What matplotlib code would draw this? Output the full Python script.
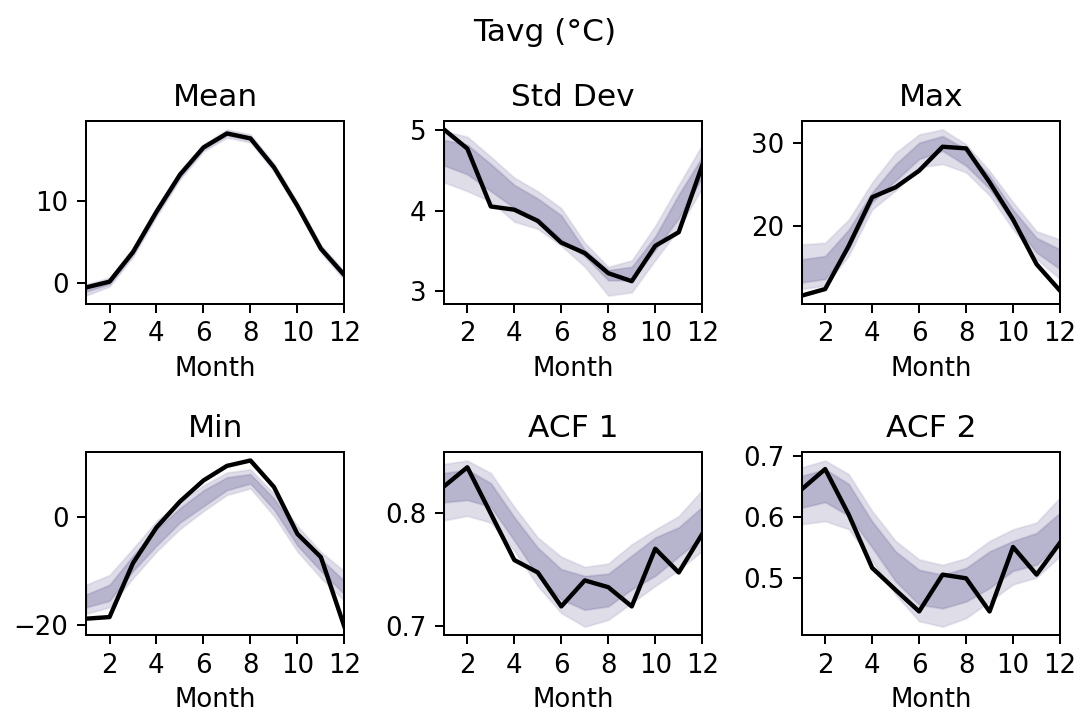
import matplotlib
matplotlib.use("Agg")
import matplotlib.pyplot as plt
import numpy as np

months = list(range(1, 13))
titles = ["Mean", "Std Dev", "Max", "Min", "ACF 1", "ACF 2"]
xticks = [2, 4, 6, 8, 10, 12]
yticks = {
    "Mean": [0, 10],
    "Std Dev": [3, 4, 5],
    "Max": [20, 30],
    "Min": [-20, 0],
    "ACF 1": [0.7, 0.8],
    "ACF 2": [0.5, 0.6, 0.7],
}

# observed (black line)
obs_mean = [-0.5, 0.2, 3.8, 8.7, 13.2, 16.5, 18.2, 17.6, 14.1, 9.4, 4.2, 1.0]
obs_std = [5.01, 4.77, 4.05, 4.01, 3.87, 3.60, 3.47, 3.22, 3.12, 3.56, 3.73, 4.56]
obs_max = [11.6, 12.4, 17.6, 23.5, 24.7, 26.7, 29.6, 29.4, 25.3, 20.8, 15.4, 12.2]
obs_min = [-18.9, -18.6, -8.6, -2.0, 2.8, 6.7, 9.4, 10.4, 5.5, -3.2, -7.5, -20.4]
obs_acf1 = [0.823, 0.840, 0.799, 0.758, 0.747, 0.717, 0.740, 0.734, 0.717, 0.768, 0.747, 0.781]
obs_acf2 = [0.645, 0.678, 0.604, 0.517, 0.481, 0.446, 0.506, 0.500, 0.446, 0.551, 0.506, 0.558]

# simulated ensemble bands: outer (upper/lower) and inner (upper/lower)
mean_out_hi = [-0.1, 0.7, 4.3, 9.2, 13.6, 16.9, 18.7, 18.1, 14.6, 9.9, 4.7, 1.5]
mean_in_hi = [-0.4, 0.4, 4.0, 8.9, 13.4, 16.7, 18.4, 17.8, 14.3, 9.6, 4.4, 1.2]
mean_in_lo = [-1.0, -0.1, 3.5, 8.4, 12.9, 16.3, 18.0, 17.4, 13.9, 9.2, 4.0, 0.7]
mean_out_lo = [-1.5, -0.4, 3.2, 8.1, 12.6, 16.0, 17.7, 17.1, 13.6, 8.9, 3.7, 0.4]

std_out_hi = [4.99, 4.92, 4.67, 4.41, 4.24, 4.03, 3.60, 3.30, 3.38, 3.81, 4.32, 4.82]
std_in_hi = [4.88, 4.82, 4.58, 4.32, 4.15, 3.94, 3.51, 3.26, 3.30, 3.68, 4.20, 4.67]
std_in_lo = [4.56, 4.45, 4.24, 4.03, 3.90, 3.64, 3.43, 3.13, 3.13, 3.51, 3.90, 4.41]
std_out_lo = [4.35, 4.24, 4.11, 3.86, 3.77, 3.56, 3.30, 2.94, 2.98, 3.38, 3.77, 4.28]

max_out_hi = [17.8, 18.0, 20.8, 25.3, 28.9, 31.1, 31.7, 29.9, 26.7, 22.9, 19.4, 18.4]
max_in_hi = [16.0, 16.4, 19.6, 24.1, 27.5, 30.1, 30.9, 29.3, 26.1, 22.0, 18.6, 17.2]
max_in_lo = [13.2, 13.6, 17.2, 22.9, 25.5, 28.1, 29.1, 27.3, 24.5, 20.4, 16.8, 14.8]
max_out_lo = [12.4, 12.8, 16.4, 22.0, 24.3, 27.1, 27.5, 26.5, 23.7, 19.6, 16.0, 13.6]

min_out_hi = [-12.6, -10.8, -5.9, -0.8, 2.8, 5.8, 8.2, 8.8, 4.3, -1.7, -6.5, -10.1]
min_in_hi = [-14.4, -12.6, -7.2, -2.3, 1.6, 4.9, 7.3, 7.9, 3.4, -2.9, -7.8, -11.9]
min_in_lo = [-16.8, -15.6, -10.1, -5.4, -1.1, 1.9, 4.9, 6.1, 1.3, -5.4, -10.1, -14.4]
min_out_lo = [-18.0, -16.8, -11.4, -6.5, -2.3, 1.0, 4.0, 5.2, 0.1, -6.5, -11.4, -15.6]

acf1_out_hi = [0.843, 0.846, 0.835, 0.805, 0.778, 0.761, 0.752, 0.755, 0.772, 0.785, 0.797, 0.820]
acf1_in_hi = [0.835, 0.838, 0.826, 0.796, 0.769, 0.750, 0.744, 0.746, 0.762, 0.778, 0.787, 0.805]
acf1_in_lo = [0.809, 0.811, 0.805, 0.775, 0.744, 0.723, 0.714, 0.717, 0.732, 0.744, 0.761, 0.778]
acf1_out_lo = [0.793, 0.797, 0.791, 0.766, 0.735, 0.711, 0.699, 0.705, 0.720, 0.735, 0.749, 0.766]

acf2_out_hi = [0.681, 0.692, 0.670, 0.610, 0.561, 0.531, 0.522, 0.533, 0.561, 0.580, 0.591, 0.632]
acf2_in_hi = [0.667, 0.678, 0.654, 0.593, 0.544, 0.514, 0.506, 0.517, 0.544, 0.561, 0.574, 0.607]
acf2_in_lo = [0.615, 0.624, 0.602, 0.550, 0.495, 0.457, 0.451, 0.462, 0.484, 0.512, 0.522, 0.558]
acf2_out_lo = [0.588, 0.593, 0.580, 0.528, 0.473, 0.430, 0.421, 0.435, 0.462, 0.490, 0.501, 0.536]

panels = [
    (obs_mean, mean_out_hi, mean_in_hi, mean_in_lo, mean_out_lo),
    (obs_std, std_out_hi, std_in_hi, std_in_lo, std_out_lo),
    (obs_max, max_out_hi, max_in_hi, max_in_lo, max_out_lo),
    (obs_min, min_out_hi, min_in_hi, min_in_lo, min_out_lo),
    (obs_acf1, acf1_out_hi, acf1_in_hi, acf1_in_lo, acf1_out_lo),
    (obs_acf2, acf2_out_hi, acf2_in_hi, acf2_in_lo, acf2_out_lo),
]

band_color = "#4a4284"

fig, axes = plt.subplots(2, 3, figsize=(1089 / 180, 712 / 180), dpi=180)
fig.subplots_adjust(left=0.079, right=0.9734, top=0.830, bottom=0.108,
                    wspace=0.385, hspace=0.81)

for ax, title, (obs, ohi, ihi, ilo, olo) in zip(axes.flat, titles, panels):
    ax.fill_between(months, olo, ohi, color=band_color, alpha=0.09, lw=0.8)
    ax.fill_between(months, olo, ohi, color=band_color, alpha=0.09, lw=0.0)
    ax.fill_between(months, ilo, ihi, color=band_color, alpha=0.14, lw=0.8)
    ax.fill_between(months, ilo, ihi, color=band_color, alpha=0.14, lw=0.0)
    ax.plot(months, obs, color="black", lw=1.75)
    ax.set_xlim(1, 12)
    ax.set_xticks(xticks)
    ax.set_yticks(yticks[title])
    ax.set_title(title, fontsize=12.5)
    ax.set_xlabel("Month", fontsize=10.4, labelpad=3.5)
    ax.tick_params(labelsize=10.4)

fig.suptitle("Tavg (°C)", fontsize=12.5, y=0.975)
fig.savefig("out.png", dpi=180)
